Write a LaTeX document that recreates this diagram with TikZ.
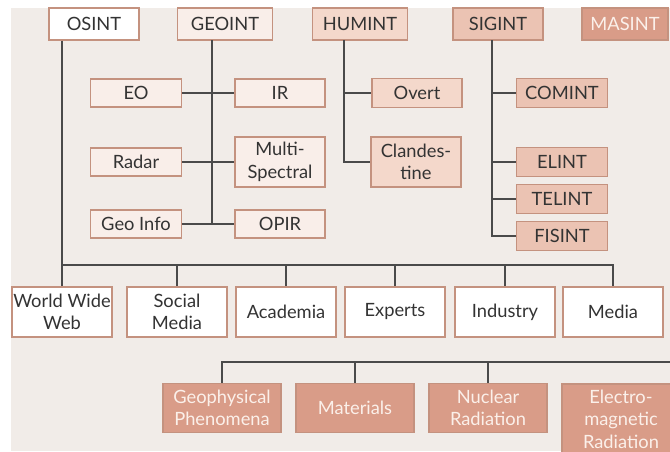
\documentclass[tikz,border=0pt]{standalone}
\usepackage{xcolor}
\usepackage{fontspec}
\setmainfont{Lato}
\usepackage{tikz}
\definecolor{bgcol}{HTML}{F1ECE8}
\definecolor{edgecol}{HTML}{C4927F}
\definecolor{linecol}{HTML}{4A4A4A}
\definecolor{txtcol}{HTML}{333333}
\definecolor{geocol}{HTML}{F9EEE9}
\definecolor{humcol}{HTML}{F4D8CB}
\definecolor{sigcol}{HTML}{EBC3B3}
\definecolor{mascol}{HTML}{D99C88}
\definecolor{mastxt}{HTML}{FBF0EA}

\begin{document}
\begin{tikzpicture}[x=1pt,y=1pt,yscale=-1,xscale=1,
  box/.style={draw=edgecol,line width=1.2pt,inner sep=0pt,align=center,text=txtcol,font=\fontsize{18.3}{22.5}\selectfont},
  osbox/.style={box,fill=white},
  geobox/.style={box,fill=geocol},
  humbox/.style={box,fill=humcol},
  sigbox/.style={box,fill=sigcol},
  masbox/.style={box,fill=mascol,text=mastxt},
  link/.style={draw=linecol,line width=1.3pt}]
\useasboundingbox (0,0) rectangle (670,451);
\clip (0,0) rectangle (670,451);
\fill[bgcol] (11,8) rectangle (670,451);
%Top row
\node[osbox,minimum width=90pt,minimum height=32pt] (osint) at (94,24) {OSINT};
\node[geobox,minimum width=95pt,minimum height=32pt] (geoint) at (225,24) {GEOINT};
\node[humbox,minimum width=95pt,minimum height=32pt] (humint) at (360,24) {HUMINT};
\node[sigbox,minimum width=90pt,minimum height=32pt] (sigint) at (498,24) {SIGINT};
\node[masbox,minimum width=86pt,minimum height=32pt] (masint) at (625,24) {MASINT};
%GEOINT
\node[geobox,minimum width=91pt,minimum height=28pt] (eo) at (136,93) {EO};
\node[geobox,minimum width=90pt,minimum height=28pt] (ir) at (280,93) {IR};
\node[geobox,minimum width=91pt,minimum height=28pt] (radar) at (136,162) {Radar};
\node[geobox,minimum width=90pt,minimum height=50pt] (multi) at (280,162) {Multi-\\Spectral};
\node[geobox,minimum width=91pt,minimum height=28pt] (geoinfo) at (136,224) {Geo Info};
\node[geobox,minimum width=90pt,minimum height=28pt] (opir) at (280,224) {OPIR};
%HUMINT
\node[humbox,minimum width=90pt,minimum height=29pt] (overt) at (417,93) {Overt};
\node[humbox,minimum width=90pt,minimum height=50pt] (clandestine) at (416,162) {Clandes-\\tine};
%SIGINT
\node[sigbox,minimum width=91pt,minimum height=29pt] (comint) at (562,93) {COMINT};
\node[sigbox,minimum width=91pt,minimum height=29pt] (elint) at (562,162) {ELINT};
\node[sigbox,minimum width=91pt,minimum height=29pt] (telint) at (562,199) {TELINT};
\node[sigbox,minimum width=91pt,minimum height=29pt] (fisint) at (562,236) {FISINT};
%OSINT sources
\node[osbox,minimum width=100pt,minimum height=50pt] (www) at (62,312) {World Wide\\Web};
\node[osbox,minimum width=100pt,minimum height=50pt] (social) at (177,312) {Social\\Media};
\node[osbox,minimum width=100pt,minimum height=50pt] (academia) at (286,312) {Academia};
\node[osbox,minimum width=100pt,minimum height=50pt] (experts) at (395,312) {Experts};
\node[osbox,minimum width=100pt,minimum height=50pt] (industry) at (505,312) {Industry};
\node[osbox,minimum width=100pt,minimum height=50pt] (media) at (613,312) {Media};
%MASINT
\node[masbox,minimum width=118pt,minimum height=49pt] (geophys) at (222,408) {Geophysical\\Phenomena};
\node[masbox,minimum width=118pt,minimum height=49pt] (materials) at (355,408) {Materials};
\node[masbox,minimum width=118pt,minimum height=49pt] (nuclear) at (488,408) {Nuclear\\Radiation};
\node[masbox,minimum width=118pt,minimum height=70pt] (electro) at (621,419) {Electro-\\magnetic\\Radiation};
%Lines
\coordinate (geotrunk) at (212,40);
\coordinate (humtrunk) at (344,40);
\coordinate (sigtrunk) at (492,40);
\coordinate (osbar) at (62,265);
\coordinate (masbar) at (670,362);
\draw[link] (geotrunk) -- (geotrunk |- geoinfo.east);
\draw[link] (eo.east) -- (ir.west);
\draw[link] (radar.east) -- (multi.west);
\draw[link] (geoinfo.east) -- (opir.west);
\draw[link] (humtrunk) |- (clandestine.west);
\draw[link] (humtrunk |- overt.west) -- (overt.west);
\draw[link] (sigtrunk) |- (fisint.west);
\draw[link] (sigtrunk |- comint.west) -- (comint.west);
\draw[link] (sigtrunk |- elint.west) -- (elint.west);
\draw[link] (sigtrunk |- telint.west) -- (telint.west);
\draw[link] (osint.south -| www.north) -- (www.north);
\draw[link] (osbar) -| (media.north);
\draw[link] (social.north |- osbar) -- (social.north);
\draw[link] (academia.north |- osbar) -- (academia.north);
\draw[link] (experts.north |- osbar) -- (experts.north);
\draw[link] (industry.north |- osbar) -- (industry.north);
\draw[link] (geophys.north) |- (masbar);
\draw[link] (materials.north |- masbar) -- (materials.north);
\draw[link] (nuclear.north |- masbar) -- (nuclear.north);
\end{tikzpicture}
\end{document}
